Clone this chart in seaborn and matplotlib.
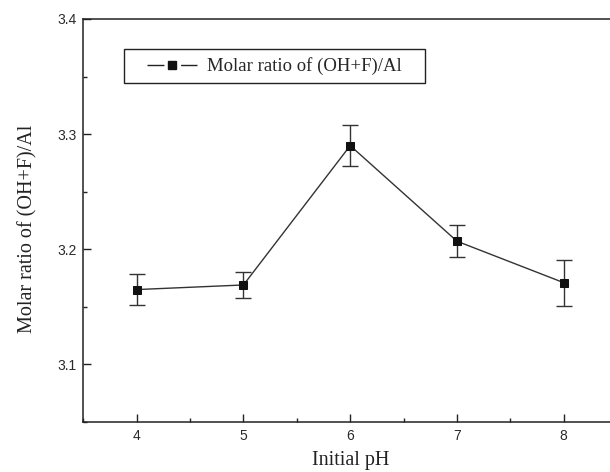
import matplotlib
matplotlib.use("Agg")
import matplotlib.pyplot as plt
import seaborn as sns
import pandas as pd
from matplotlib.lines import Line2D
from matplotlib.patches import Rectangle
from matplotlib.ticker import MultipleLocator

ph = [4, 5, 6, 7, 8]
ratio = [3.165, 3.169, 3.290, 3.207, 3.171]
err = [0.0135, 0.011, 0.018, 0.014, 0.020]
series_label = "Molar ratio of (OH+F)/Al"

sns.set_style("ticks")
plt.rcParams["font.family"] = ["Liberation Sans", "DejaVu Sans"]

df = pd.DataFrame({"ph": ph, "ratio": ratio, "err": err})

fig = plt.figure(figsize=(6.10, 4.72), dpi=100)
ax = fig.add_axes([0.1366, 0.1059, 0.875, 0.854])

ax.errorbar(df["ph"], df["ratio"], yerr=df["err"], fmt="none",
            ecolor="#333333", elinewidth=1.0, capsize=5.5, capthick=1.0, zorder=2)
sns.lineplot(data=df, x="ph", y="ratio", ax=ax, color="#333333", linewidth=1.0,
             marker="s", markersize=5.6, markerfacecolor="#111111",
             markeredgecolor="#111111", legend=False, zorder=3)

ax.set_xlim(3.5, 8.5)
ax.set_ylim(3.05, 3.4)
ax.xaxis.set_major_locator(MultipleLocator(1))
ax.xaxis.set_minor_locator(MultipleLocator(0.5))
ax.yaxis.set_major_locator(MultipleLocator(0.1))
ax.yaxis.set_minor_locator(MultipleLocator(0.05))
ax.tick_params(which="both", direction="in", color="#222222", width=1.0,
               labelsize=10, labelcolor="#2a2a2a", pad=5)
ax.tick_params(which="major", length=5.5)
ax.tick_params(which="minor", length=3)
ax.tick_params(top=False, right=False, which="both")
for s in ax.spines.values():
    s.set_linewidth(1.1)
    s.set_color("#222222")

ax.set_xlabel("Initial pH", family="Liberation Serif", fontsize=14.5, color="#222222", labelpad=6)
ax.set_ylabel(series_label, family="Liberation Serif", fontsize=14.5, color="#222222", labelpad=11)
ax.yaxis.set_label_coords(-0.085, 0.48)

# Origin-style legend key: line broken around the marker
key_line = Line2D([], [], color="#222222", linewidth=1.0,
                  linestyle=(0, (12.2, 12.0, 12.2, 60)))
key_mark = Line2D([], [], linestyle="none", marker="s", markersize=5.6,
                  markerfacecolor="#111111", markeredgecolor="#111111")
leg = ax.legend(handles=[(key_line, key_mark)], labels=[series_label],
                loc="center left", bbox_to_anchor=(0.1188, 0.8826), borderaxespad=0,
                frameon=False, handlelength=2.7, handletextpad=0.5, borderpad=0,
                prop={"family": "Liberation Serif", "size": 13.5})
ax.add_patch(Rectangle((0.0768, 0.8404), 0.5625, 0.0844, transform=ax.transAxes,
                       fill=False, edgecolor="#222222", linewidth=1.0, zorder=4))

fig.savefig("out.png", dpi=100)
